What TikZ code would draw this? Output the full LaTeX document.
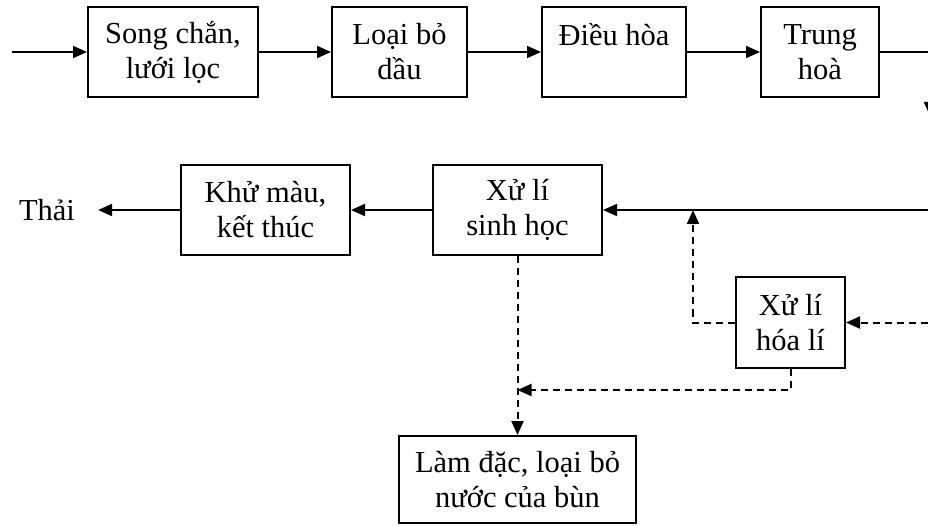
\documentclass[tikz,border=0pt]{standalone}
\usepackage{fontspec}
\setmainfont{Liberation Serif}
\usetikzlibrary{arrows.meta}

\begin{document}
\begin{tikzpicture}[x=1pt,y=-1pt,
		box/.style={draw, line width=2pt, align=center, inner sep=0pt,
			minimum height=90pt, font=\fontsize{30.5}{35}\selectfont},
		plain/.style={align=center, inner sep=0pt, font=\fontsize{30.5}{35}\selectfont},
		flow/.style={line width=2pt, -{Triangle[length=14pt,width=12pt]}},
		dflow/.style={flow, dash pattern=on 7pt off 5pt}]

		\clip (0,0) rectangle (928,526);

		\node[box, minimum width=170pt] (song)   at (173,52)    {Song chắn,\\lưới lọc};
		\node[box, minimum width=135pt] (dau)    at (399.5,52)  {Loại bỏ\\dầu};
		\node[box, minimum width=144pt] (dieu)   at (614,52)    {Điều hòa\\\mbox{}};
		\node[box, minimum width=118pt] (trung)  at (820,52)    {Trung\\hoà};
		\node[box, minimum width=169pt] (sinh)   at (517.5,210) {Xử lí\\sinh học};
		\node[box, minimum width=169pt] (khu)    at (265.5,210) {Khử màu,\\kết thúc};
		\node[box, minimum width=109pt, minimum height=91pt] (hoali) at (790.5,322.5) {Xử lí\\hóa lí};
		\node[box, minimum width=237pt, minimum height=87pt] (lamdac) at (517.5,479.5) {Làm đặc, loại bỏ\\nước của bùn};
		\node[plain, inner xsep=23pt] (thai) at (47,210) {Thải};

		\coordinate (vao)  at (12,52);
		\coordinate (ra)   at (930,116);
		\coordinate (tu1)  at (940,210);
		\coordinate (tu2)  at (940,322.5);
		\coordinate (nhap) at (693,210);
		\coordinate (bun)  at (517.5,390);

		\draw[flow] (vao) -- (song);
		\draw[flow] (song) -- (dau);
		\draw[flow] (dau) -- (dieu);
		\draw[flow] (dieu) -- (trung);
		\draw[flow] (trung.east) -| (ra);

		\draw[flow] (tu1) -- (sinh.east);
		\draw[flow] (sinh) -- (khu);
		\draw[flow] (khu) -- (thai);

		\draw[dflow] (tu2) -- (hoali.east);
		\draw[dflow] (hoali.west) -| (nhap);
		\draw[dflow] (hoali.south) |- (bun);
		\draw[dflow] (sinh) -- (lamdac);

\end{tikzpicture}
\end{document}
